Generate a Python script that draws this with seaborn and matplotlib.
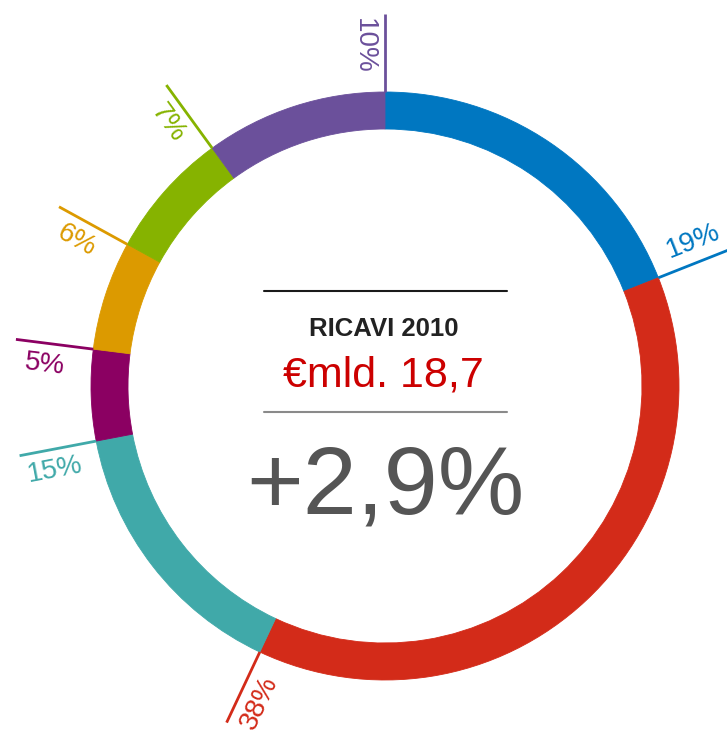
import matplotlib
matplotlib.use('Agg')
import matplotlib.pyplot as plt
import seaborn as sns
import numpy as np

# Ring segments, clockwise from 12 o'clock
shares = [19, 38, 15, 5, 6, 7, 10]
colors = ['#0077c1', '#d32b19', '#40a9a9', '#8b0062', '#dc9a00', '#86b300', '#6b509b']

title = 'RICAVI 2010'
revenue = '€mld. 18,7'
growth = '+2,9%'

W, H = 727, 734
cx, cy = 385, H - 386
r_out, ring = 294, 37

sns.set_theme(style='white')
plt.rcParams['font.family'] = ['Liberation Sans', 'DejaVu Sans']

fig = plt.figure(figsize=(W / 100, H / 100), dpi=100)
ax = fig.add_axes([0, 0, 1, 1])
wedges, _ = ax.pie(shares, colors=colors, startangle=90, counterclock=False,
                   radius=r_out, center=(cx, cy),
                   wedgeprops=dict(width=ring, linewidth=0.6))
for w in wedges:
    w.set_edgecolor(w.get_facecolor())
ax.set_xlim(0, W)
ax.set_ylim(0, H)
ax.set_aspect('equal')
ax.axis('off')

# leader lines + rotated percentage labels at the end of each segment
ends = np.cumsum(shares) / sum(shares) * 360
c = np.array([cx, cy])
for share, col, th in zip(shares, colors, ends):
    t = np.radians(th)
    u = np.array([np.sin(t), np.cos(t)])
    ccw = np.array([-np.cos(t), np.sin(t)])
    p0, p1 = c + r_out * u, c + 372 * u
    ax.plot([p0[0], p1[0]], [p0[1], p1[1]], color=col, lw=2, solid_capstyle='butt')
    pos = c + 340 * u + 21 * ccw
    rot = ((180 - th) % 180) - 90
    ax.text(pos[0], pos[1], f'{share}%', color=col, fontsize=20,
            rotation=rot, rotation_mode='anchor', ha='center', va='center')

# centre block
ax.plot([264, 507], [H - 291, H - 291], color='#1a1a1a', lw=1.5)
ax.plot([264, 507], [H - 412, H - 412], color='#8a8a8a', lw=1.5)
ax.text(384, H - 336, title, ha='center', va='baseline', fontsize=18.5,
        fontweight='bold', color='#222222')
ax.text(383, H - 387, revenue, ha='center', va='baseline', fontsize=31,
        color='#cc0000')
ax.text(385, H - 513, growth, ha='center', va='baseline', fontsize=70,
        color='#555555')

fig.savefig('out.png', dpi=100)
plt.close()
